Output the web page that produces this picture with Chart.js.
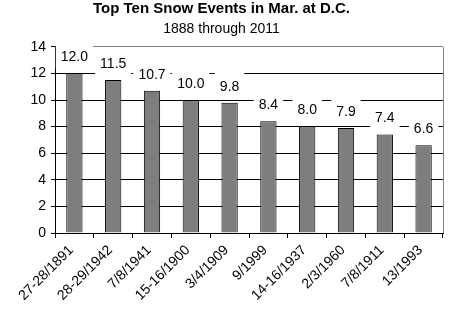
<!DOCTYPE html>
<html>
<head>
<meta charset="utf-8">
<script src="https://cdn.jsdelivr.net/npm/chart.js@4.4.0/dist/chart.umd.min.js"></script>
<style>
  html, body { margin: 0; padding: 0; background: #fff; }
  #wrap { width: 454px; height: 325px; }
</style>
</head>
<body>
<div id="wrap"><canvas id="c" width="454" height="325"></canvas></div>
<script>
const titleText = "Top Ten Snow Events in Mar. at D.C.";
const subtitleText = "1888 through 2011";
const categories = ["27-28/1891", "28-29/1942", "7/8/1941", "15-16/1900", "3/4/1909", "9/1999", "14-16/1937", "2/3/1960", "7/8/1911", "13/1993"];
const snowfall = [12.0, 11.5, 10.7, 10.0, 9.8, 8.4, 8.0, 7.9, 7.4, 6.6];
const yTicks = [0, 2, 4, 6, 8, 10, 12, 14];

const FONT = "'Liberation Sans', Arial, sans-serif";

const decor = {
  id: 'decor',
  beforeDatasetsDraw(chart) {
    const { ctx, chartArea: a } = chart;
    ctx.save();
    ctx.strokeStyle = '#808080';
    ctx.lineWidth = 1;
    ctx.beginPath();
    ctx.moveTo(Math.round(a.right) + 0.5, a.top);
    ctx.lineTo(Math.round(a.right) + 0.5, a.bottom);
    ctx.stroke();
    ctx.restore();
  },
  afterDatasetsDraw(chart) {
    const { ctx } = chart;
    const meta = chart.getDatasetMeta(0);
    ctx.save();
    ctx.font = '14px ' + FONT;
    ctx.textAlign = 'center';
    ctx.textBaseline = 'middle';
    meta.data.forEach((bar, i) => {
      const txt = snowfall[i].toFixed(1);
      const w = ctx.measureText(txt).width;
      const cx = bar.x;
      const cy = bar.y - 17;
      ctx.fillStyle = '#fff';
      ctx.fillRect(cx - w / 2 - 5, cy - 13, w + 10, 25);
      ctx.fillStyle = '#000';
      ctx.fillText(txt, cx, cy + 1);
    });
    ctx.restore();
  }
};

new Chart(document.getElementById('c'), {
  type: 'bar',
  data: {
    labels: categories,
    datasets: [{
      data: snowfall,
      backgroundColor: '#7e7e7e',
      borderColor: '#000',
      borderWidth: 1,
      barPercentage: 0.42,
      categoryPercentage: 1.0
    }]
  },
  options: {
    responsive: false,
    animation: false,
    devicePixelRatio: 1,
    layout: { padding: { left: 0, right: 11, top: 0, bottom: 0 } },
    plugins: {
      legend: { display: false },
      tooltip: { enabled: false },
      title: {
        display: true,
        text: titleText,
        color: '#000',
        font: { family: FONT, size: 15, weight: 'bold' },
        padding: { top: 0, bottom: 1 }
      },
      subtitle: {
        display: true,
        text: subtitleText,
        color: '#000',
        font: { family: FONT, size: 14, weight: 'normal' },
        padding: { top: 2, bottom: 9 }
      }
    },
    scales: {
      x: {
        grid: {
          drawOnChartArea: false,
          drawTicks: true,
          tickLength: 5,
          color: '#000',
          tickColor: '#000',
          offset: true
        },
        border: { color: '#000', width: 1 },
        ticks: {
          color: '#000',
          font: { family: FONT, size: 14 },
          maxRotation: 45,
          minRotation: 45,
          autoSkip: false,
          padding: 4,
          labelOffset: -3
        },
        afterFit(scale) { scale.height = 92; }
      },
      y: {
        min: 0,
        max: 14,
        afterBuildTicks(scale) { scale.ticks = yTicks.map(v => ({ value: v })); },
        grid: {
          color: (c) => (c.tick && c.tick.value === 14) ? '#808080' : '#000',
          tickColor: '#000',
          tickLength: 4,
          drawTicks: true
        },
        border: { color: '#000', width: 1 },
        ticks: {
          color: '#000',
          font: { family: FONT, size: 14 },
          padding: 5
        },
        afterFit(scale) { scale.width = 55; }
      }
    }
  },
  plugins: [decor]
});
</script>
</body>
</html>
